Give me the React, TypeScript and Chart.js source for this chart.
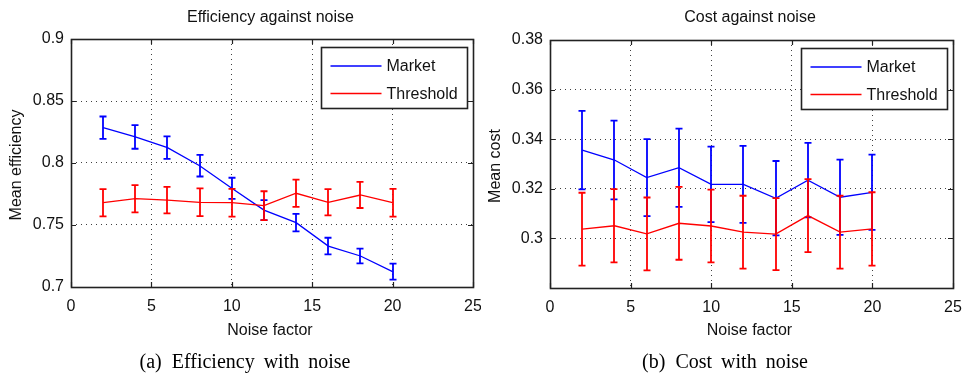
import React, { useEffect, useRef } from 'react';
import { Chart, registerables } from 'chart.js';

Chart.register(...registerables);

// ---------- data ----------
const noiseFactors = [2, 4, 6, 8, 10, 12, 14, 16, 18, 20];
const seriesNames = ['Market', 'Threshold'];

const effMarket = [0.8285, 0.821, 0.8124, 0.7978, 0.7796, 0.762, 0.7519, 0.733, 0.725, 0.7124];
const effMarketErr = [0.009, 0.0095, 0.009, 0.0087, 0.0085, 0.008, 0.007, 0.0067, 0.006, 0.0065];
const effThreshold = [0.768, 0.7712, 0.77, 0.7683, 0.768, 0.7656, 0.7756, 0.7683, 0.7742, 0.768];
const effThresholdErr = [0.011, 0.011, 0.0107, 0.0112, 0.0112, 0.0116, 0.011, 0.0106, 0.0105, 0.0112];

const costMarket = [0.3356, 0.3316, 0.3245, 0.3285, 0.3218, 0.3218, 0.3162, 0.3235, 0.3166, 0.3186];
const costMarketErr = [0.0158, 0.0159, 0.0155, 0.0158, 0.0152, 0.0155, 0.015, 0.015, 0.0152, 0.0152];
const costThreshold = [0.3037, 0.3051, 0.3018, 0.3061, 0.305, 0.3025, 0.3017, 0.3092, 0.3025, 0.3038];
const costThresholdErr = [0.0147, 0.0148, 0.0147, 0.0147, 0.0147, 0.0147, 0.0145, 0.0147, 0.0147, 0.0148];

const xTicks = [0, 5, 10, 15, 20, 25];
const effYTicks = [0.7, 0.75, 0.8, 0.85, 0.9];
const costYTicks = [0.28, 0.3, 0.32, 0.34, 0.36, 0.38];
const costHiddenLabels = [0.28];

const chartTitles = ['Efficiency against noise', 'Cost against noise'];
const yLabels = ['Mean efficiency', 'Mean cost'];
const xLabel = 'Noise factor';
const captions = ['(a)', 'Efficiency with noise', '(b)', 'Cost with noise'];

// ---------- styles ----------
const COLORS = ['#0000ff', '#ff0000'];
const SANS = '"Liberation Sans", Arial, sans-serif';
const FONT_PX = 16;
const TEXT_COLOR = '#111';

type PanelProps = {
  left: number;
  width: number;
  height: number;
  area: { left: number; right: number; top: number; bottom: number };
  title: string;
  yLabel: string;
  yTicks: number[];
  hiddenY: number[];
  means: number[][];
  errs: number[][];
};

function Panel(p: PanelProps) {
  const ref = useRef<HTMLCanvasElement | null>(null);

  useEffect(() => {
    const canvas = ref.current!;
    const font = { family: SANS, size: FONT_PX };

    const decor = {
      id: 'decor',
      afterDatasetDraw(chart: any, args: any) {
        const i = args.index;
        const ctx = chart.ctx;
        const xs = chart.scales.x;
        const ys = chart.scales.y;
        const area = chart.chartArea;
        ctx.save();
        ctx.beginPath();
        ctx.rect(area.left, area.top, area.right - area.left, area.bottom - area.top);
        ctx.clip();
        ctx.strokeStyle = COLORS[i];
        ctx.lineWidth = 1.8;
        noiseFactors.forEach((nf, k) => {
          const x = Math.round(xs.getPixelForValue(nf));
          const y1 = ys.getPixelForValue(p.means[i][k] + p.errs[i][k]);
          const y2 = ys.getPixelForValue(p.means[i][k] - p.errs[i][k]);
          ctx.beginPath();
          ctx.moveTo(x, y1);
          ctx.lineTo(x, y2);
          ctx.moveTo(x - 3.5, y1);
          ctx.lineTo(x + 3.5, y1);
          ctx.moveTo(x - 3.5, y2);
          ctx.lineTo(x + 3.5, y2);
          ctx.stroke();
        });
        ctx.restore();
      },
      afterDraw(chart: any) {
        const ctx = chart.ctx;
        const a = chart.chartArea;
        const xs = chart.scales.x;
        const ys = chart.scales.y;
        ctx.save();
        // border
        ctx.strokeStyle = '#222';
        ctx.lineWidth = 1.6;
        ctx.strokeRect(Math.round(a.left) + 0.5, Math.round(a.top) + 0.5,
          Math.round(a.right - a.left), Math.round(a.bottom - a.top));
        // inner ticks
        ctx.lineWidth = 1.2;
        ctx.beginPath();
        xTicks.forEach((v) => {
          const x = Math.round(xs.getPixelForValue(v)) + 0.5;
          ctx.moveTo(x, a.bottom);
          ctx.lineTo(x, a.bottom - 5);
          ctx.moveTo(x, a.top);
          ctx.lineTo(x, a.top + 5);
        });
        p.yTicks.forEach((v) => {
          const y = Math.round(ys.getPixelForValue(v)) + 0.5;
          ctx.moveTo(a.left, y);
          ctx.lineTo(a.left + 5, y);
          ctx.moveTo(a.right, y);
          ctx.lineTo(a.right - 5, y);
        });
        ctx.stroke();

        // legend
        const bw = 146, bh = 61;
        const bx = Math.round(a.right - 6 - bw) + 0.5;
        const by = Math.round(a.top + 8) + 0.5;
        ctx.fillStyle = '#fff';
        ctx.fillRect(bx, by, bw, bh);
        ctx.lineWidth = 1.6;
        ctx.strokeStyle = '#222';
        ctx.strokeRect(bx, by, bw, bh);
        ctx.font = `${FONT_PX}px ${SANS}`;
        ctx.textBaseline = 'middle';
        ctx.textAlign = 'left';
        seriesNames.forEach((name, i) => {
          const ly = by + 18.5 + i * 27.5;
          ctx.strokeStyle = COLORS[i];
          ctx.lineWidth = 1.3;
          ctx.beginPath();
          ctx.moveTo(bx + 9, ly);
          ctx.lineTo(bx + 60, ly);
          ctx.stroke();
          ctx.fillStyle = TEXT_COLOR;
          ctx.fillText(name, bx + 65, ly + 1);
        });

        // titles
        ctx.fillStyle = TEXT_COLOR;
        ctx.textAlign = 'center';
        ctx.textBaseline = 'middle';
        const cx = (a.left + a.right) / 2;
        ctx.fillText(p.title, cx - 1.5, 18);
        ctx.fillText(xLabel, cx - 2, 331);
        ctx.save();
        ctx.translate(a.left - 54, (a.top + a.bottom) / 2 + 2);
        ctx.rotate(-Math.PI / 2);
        ctx.fillText(p.yLabel, 0, 0);
        ctx.restore();
        ctx.restore();
      },
    };

    const chart = new Chart(canvas, {
      type: 'line',
      data: {
        datasets: seriesNames.map((name, i) => ({
          label: name,
          data: noiseFactors.map((x, k) => ({ x, y: p.means[i][k] })),
          borderColor: COLORS[i],
          backgroundColor: COLORS[i],
          borderWidth: 1.3,
          pointRadius: 0,
          tension: 0,
          order: i === 0 ? 1 : 0,
        })),
      },
      options: {
        animation: false,
        responsive: false,
        devicePixelRatio: 1,
        layout: {
          padding: { top: p.area.top, right: p.width - p.area.right, left: 0, bottom: 0 },
        },
        plugins: {
          legend: { display: false },
          title: { display: false },
          tooltip: { enabled: false },
        },
        scales: {
          x: {
            type: 'linear',
            min: 0,
            max: 25,
            afterBuildTicks: (s: any) => {
              s.ticks = xTicks.map((v) => ({ value: v }));
            },
            afterFit: (s: any) => {
              s.height = p.height - p.area.bottom;
              s.paddingLeft = 0;
              s.paddingRight = 0;
              s.paddingTop = 0;
              s.paddingBottom = 0;
            },
            ticks: {
              font,
              color: TEXT_COLOR,
              padding: 10,
              maxRotation: 0,
              autoSkip: false,
              callback: (v: any) => String(v),
            },
            grid: { color: 'rgba(0,0,0,0.75)', lineWidth: 1, drawTicks: false },
            border: { display: false, dash: [1, 4] },
          },
          y: {
            type: 'linear',
            min: p.yTicks[0],
            max: p.yTicks[p.yTicks.length - 1],
            afterBuildTicks: (s: any) => {
              s.ticks = p.yTicks.map((v) => ({ value: v }));
            },
            afterFit: (s: any) => {
              s.width = p.area.left;
              s.paddingLeft = 0;
              s.paddingRight = 0;
              s.paddingTop = 0;
              s.paddingBottom = 0;
            },
            ticks: {
              font,
              color: TEXT_COLOR,
              padding: 7,
              autoSkip: false,
              callback: (v: any) =>
                p.hiddenY.some((h) => Math.abs(h - v) < 1e-9) ? '' : String(+Number(v).toFixed(2)),
            },
            grid: { color: 'rgba(0,0,0,0.75)', lineWidth: 1, drawTicks: false },
            border: { display: false, dash: [1, 4] },
          },
        },
      } as any,
      plugins: [decor],
    });
    return () => chart.destroy();
  }, []);

  return (
    <canvas
      ref={ref}
      width={p.width}
      height={p.height}
      style={{ position: 'absolute', left: p.left, top: 0, width: p.width, height: p.height }}
    />
  );
}

const captionStyle = (center: number): React.CSSProperties => ({
  position: 'absolute',
  left: center - 200,
  width: 400,
  top: 349,
  textAlign: 'center',
  fontFamily: '"Liberation Serif", "Times New Roman", serif',
  fontSize: 20,
  lineHeight: '24px',
  color: '#000',
  wordSpacing: 4,
  whiteSpace: 'nowrap',
});

export default function App() {
  return (
    <div style={{ position: 'absolute', left: 0, top: 0, width: 963, height: 376, background: '#fff', overflow: 'hidden' }}>
      <Panel
        left={0}
        width={481}
        height={376}
        area={{ left: 71, right: 473, top: 39, bottom: 287 }}
        title={chartTitles[0]}
        yLabel={yLabels[0]}
        yTicks={effYTicks}
        hiddenY={[]}
        means={[effMarket, effThreshold]}
        errs={[effMarketErr, effThresholdErr]}
      />
      <Panel
        left={481}
        width={482}
        height={376}
        area={{ left: 69, right: 472, top: 40, bottom: 288 }}
        title={chartTitles[1]}
        yLabel={yLabels[1]}
        yTicks={costYTicks}
        hiddenY={costHiddenLabels}
        means={[costMarket, costThreshold]}
        errs={[costMarketErr, costThresholdErr]}
      />
      <div style={captionStyle(245)}>
        {captions[0]}<span style={{ marginLeft: 10 }}>{captions[1]}</span>
      </div>
      <div style={captionStyle(725)}>
        {captions[2]}<span style={{ marginLeft: 10 }}>{captions[3]}</span>
      </div>
    </div>
  );
}
